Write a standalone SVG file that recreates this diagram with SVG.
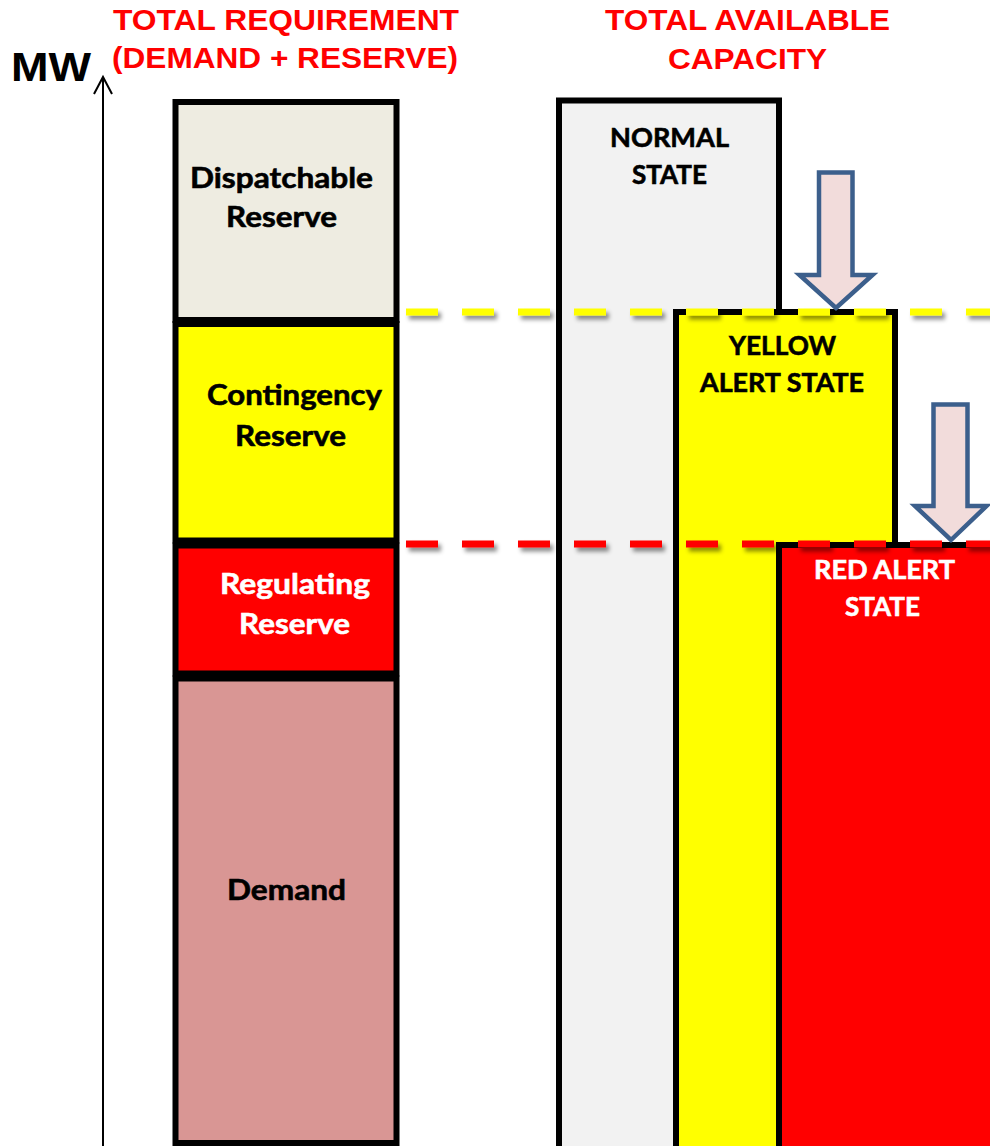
<svg xmlns="http://www.w3.org/2000/svg" width="990" height="1146" viewBox="0 0 990 1146">
<defs>
<filter id="sh" filterUnits="userSpaceOnUse" x="380" y="280" width="640" height="300">
<feDropShadow dx="3" dy="4" stdDeviation="2" flood-color="#000" flood-opacity="0.45"/>
</filter>
</defs>
<style>
.box{stroke:#000;stroke-width:6}
.lbl{font-family:Lato,"Open Sans","Liberation Sans",sans-serif;font-weight:bold;font-size:29px;stroke:#000;stroke-width:0.6}
.st{font-family:Lato,"Open Sans","Liberation Sans",sans-serif;font-weight:bold;font-size:27px;stroke:#000;stroke-width:0.6}
.w{fill:#fff;stroke:#fff}
.ttl{font-family:"Liberation Sans",Arial,sans-serif;font-weight:bold;font-size:29px;fill:#ff0000}
.arr{fill:#f2dcdb;stroke:#3c5f8c;stroke-width:4.5;stroke-linejoin:miter}
.dash{fill:none;stroke-width:7;stroke-dasharray:32 24}
</style>
<rect width="990" height="1146" fill="#fff"/>
<g id="axis">
<line x1="103" y1="78" x2="103" y2="1146" stroke="#000" stroke-width="2"/>
<polyline points="94,94 103,77 112,94" fill="none" stroke="#000" stroke-width="2"/>
<text x="11" y="81" font-family="Liberation Sans,Arial,sans-serif" font-weight="bold" font-size="40" textLength="80" lengthAdjust="spacingAndGlyphs">MW</text>
</g>
<g id="titles">
<text class="ttl" x="113" y="30" textLength="346" lengthAdjust="spacingAndGlyphs">TOTAL REQUIREMENT</text>
<text class="ttl" x="112" y="68" textLength="346" lengthAdjust="spacingAndGlyphs">(DEMAND + RESERVE)</text>
<text class="ttl" x="605" y="30" textLength="285" lengthAdjust="spacingAndGlyphs">TOTAL AVAILABLE</text>
<text class="ttl" x="668" y="69" textLength="159" lengthAdjust="spacingAndGlyphs">CAPACITY</text>
</g>
<g id="dispatchable">
<rect class="box" x="175.5" y="102" width="221" height="218" fill="#eeece1"/>
<text class="lbl" x="190" y="188" textLength="183" lengthAdjust="spacingAndGlyphs">Dispatchable</text>
<text class="lbl" x="226" y="227" textLength="111" lengthAdjust="spacingAndGlyphs">Reserve</text>
</g>
<g id="contingency">
<rect class="box" x="175.5" y="324" width="221" height="216.5" fill="#ffff00"/>
<text class="lbl" x="207" y="405" textLength="175" lengthAdjust="spacingAndGlyphs">Contingency</text>
<text class="lbl" x="235" y="446" textLength="111" lengthAdjust="spacingAndGlyphs">Reserve</text>
</g>
<g id="regulating">
<rect class="box" x="175.5" y="545.5" width="221" height="128" fill="#ff0000"/>
<text class="lbl w" x="220" y="594" textLength="150" lengthAdjust="spacingAndGlyphs">Regulating</text>
<text class="lbl w" x="239" y="634" textLength="111" lengthAdjust="spacingAndGlyphs">Reserve</text>
</g>
<g id="demand">
<rect class="box" x="175.5" y="678.5" width="221" height="464.5" fill="#d99694"/>
<text class="lbl" x="227" y="900" textLength="119" lengthAdjust="spacingAndGlyphs">Demand</text>
</g>
<g id="normal">
<rect class="box" x="559" y="100.5" width="220" height="1100" fill="#f2f2f2"/>
<text class="st" x="610" y="147" textLength="119" lengthAdjust="spacingAndGlyphs">NORMAL</text>
<text class="st" x="632" y="184" textLength="75" lengthAdjust="spacingAndGlyphs">STATE</text>
</g>
<g id="yellow">
<rect class="box" x="676" y="312" width="219" height="900" fill="#ffff00"/>
<text class="st" x="729" y="355" textLength="107" lengthAdjust="spacingAndGlyphs">YELLOW</text>
<text class="st" x="700" y="392" textLength="164" lengthAdjust="spacingAndGlyphs">ALERT STATE</text>
</g>
<g id="red">
<rect class="box" x="779" y="545" width="300" height="700" fill="#ff0000"/>
<text class="st w" x="814" y="579" textLength="141" lengthAdjust="spacingAndGlyphs">RED ALERT</text>
<text class="st w" x="845" y="616" textLength="75" lengthAdjust="spacingAndGlyphs">STATE</text>
</g>
<g id="connectors">
<path class="dash" stroke="#ffff00" filter="url(#sh)" d="M406,312 H1000"/>
<path class="dash" stroke="#ff0000" filter="url(#sh)" d="M406,544 H1000"/>
<path id="arrow1" class="arr" d="M819,172.5 H852.5 V275 H872.5 L836,308 L799.5,275 H819 Z"/>
<path id="arrow2" class="arr" d="M933.5,404.5 H967.5 V506 H986.5 L951,540 L915,506 H933.5 Z"/>
</g>
</svg>
